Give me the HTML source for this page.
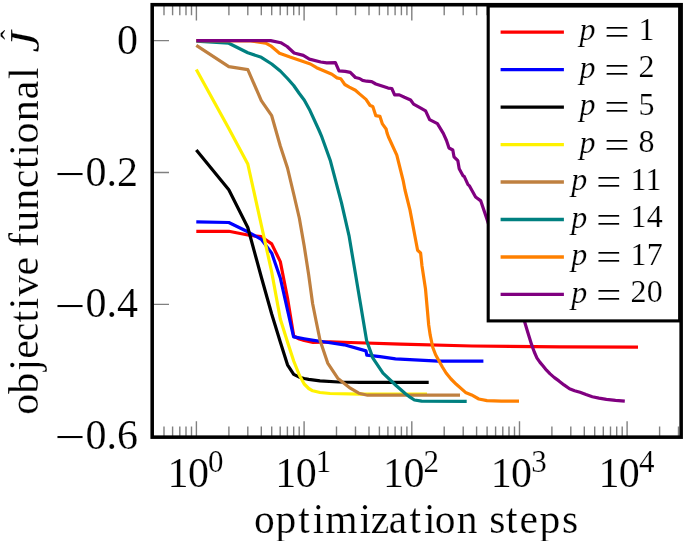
<!DOCTYPE html>
<html><head><meta charset="utf-8"><title>plot</title>
<style>html,body{margin:0;padding:0;background:#fff}svg{display:block;will-change:transform}text{font-family:"Liberation Serif",serif;fill:#000;stroke:#fff;stroke-width:.18px}</style></head><body>
<svg width="685" height="541" viewBox="0 0 685 541">
<rect width="685" height="541" fill="#fff"/>
<g stroke="#808080" stroke-width="1.4" fill="none">
<path d="M164.0 4.7 v10.6 M164.0 437.15 v-10.6"/>
<path d="M172.6 4.7 v10.6 M172.6 437.15 v-10.6"/>
<path d="M179.8 4.7 v10.6 M179.8 437.15 v-10.6"/>
<path d="M186.0 4.7 v10.6 M186.0 437.15 v-10.6"/>
<path d="M191.5 4.7 v10.6 M191.5 437.15 v-10.6"/>
<path d="M196.4 4.7 v15.8 M196.4 437.15 v-15.8"/>
<path d="M228.9 4.7 v10.6 M228.9 437.15 v-10.6"/>
<path d="M247.8 4.7 v10.6 M247.8 437.15 v-10.6"/>
<path d="M261.3 4.7 v10.6 M261.3 437.15 v-10.6"/>
<path d="M271.7 4.7 v10.6 M271.7 437.15 v-10.6"/>
<path d="M280.2 4.7 v10.6 M280.2 437.15 v-10.6"/>
<path d="M287.4 4.7 v10.6 M287.4 437.15 v-10.6"/>
<path d="M293.7 4.7 v10.6 M293.7 437.15 v-10.6"/>
<path d="M299.2 4.7 v10.6 M299.2 437.15 v-10.6"/>
<path d="M304.1 4.7 v15.8 M304.1 437.15 v-15.8"/>
<path d="M336.5 4.7 v10.6 M336.5 437.15 v-10.6"/>
<path d="M355.5 4.7 v10.6 M355.5 437.15 v-10.6"/>
<path d="M369.0 4.7 v10.6 M369.0 437.15 v-10.6"/>
<path d="M379.4 4.7 v10.6 M379.4 437.15 v-10.6"/>
<path d="M387.9 4.7 v10.6 M387.9 437.15 v-10.6"/>
<path d="M395.1 4.7 v10.6 M395.1 437.15 v-10.6"/>
<path d="M401.4 4.7 v10.6 M401.4 437.15 v-10.6"/>
<path d="M406.9 4.7 v10.6 M406.9 437.15 v-10.6"/>
<path d="M411.8 4.7 v15.8 M411.8 437.15 v-15.8"/>
<path d="M444.2 4.7 v10.6 M444.2 437.15 v-10.6"/>
<path d="M463.2 4.7 v10.6 M463.2 437.15 v-10.6"/>
<path d="M476.6 4.7 v10.6 M476.6 437.15 v-10.6"/>
<path d="M487.1 4.7 v10.6 M487.1 437.15 v-10.6"/>
<path d="M495.6 4.7 v10.6 M495.6 437.15 v-10.6"/>
<path d="M502.8 4.7 v10.6 M502.8 437.15 v-10.6"/>
<path d="M509.0 4.7 v10.6 M509.0 437.15 v-10.6"/>
<path d="M514.5 4.7 v10.6 M514.5 437.15 v-10.6"/>
<path d="M519.5 4.7 v15.8 M519.5 437.15 v-15.8"/>
<path d="M551.9 4.7 v10.6 M551.9 437.15 v-10.6"/>
<path d="M570.8 4.7 v10.6 M570.8 437.15 v-10.6"/>
<path d="M584.3 4.7 v10.6 M584.3 437.15 v-10.6"/>
<path d="M594.7 4.7 v10.6 M594.7 437.15 v-10.6"/>
<path d="M603.3 4.7 v10.6 M603.3 437.15 v-10.6"/>
<path d="M610.5 4.7 v10.6 M610.5 437.15 v-10.6"/>
<path d="M616.7 4.7 v10.6 M616.7 437.15 v-10.6"/>
<path d="M622.2 4.7 v10.6 M622.2 437.15 v-10.6"/>
<path d="M627.1 4.7 v15.8 M627.1 437.15 v-15.8"/>
<path d="M659.6 4.7 v10.6 M659.6 437.15 v-10.6"/>
<path d="M678.5 4.7 v10.6 M678.5 437.15 v-10.6"/>
<path d="M152.2 40.6 h16.8 M681.15 40.6 h-16.8"/>
<path d="M152.2 172.5 h16.8 M681.15 172.5 h-16.8"/>
<path d="M152.2 304.4 h16.8 M681.15 304.4 h-16.8"/>
</g>
<g fill="none" stroke-width="3.2" stroke-linejoin="round">
<polyline stroke="#ff0000" points="196.3,231.3 228.8,231.3 247.8,235.0 261.3,236.7 271.7,243.9 280.3,261.6 287.5,298.0 293.7,336.0 299.3,339.0 304.2,340.5 313.1,342.4 330.0,341.8 350.3,342.5 400.6,344.2 472.0,346.0 560.0,346.8 638.0,347.1"/>
<polyline stroke="#0000ff" points="196.3,221.8 228.8,222.5 247.8,231.8 261.3,239.3 271.7,253.1 280.3,278.0 287.5,310.0 293.6,336.8 299.3,337.8 304.2,338.7 313.6,340.3 325.1,342.0 344.2,344.8 366.0,350.9 366.8,355.2 380.0,356.6 395.5,358.8 438.3,361.1 483.4,361.1"/>
<polyline stroke="#000000" points="196.3,150.1 228.8,189.8 247.8,227.5 261.3,277.0 271.7,314.0 280.3,342.0 287.5,364.8 293.7,374.3 299.3,377.2 304.2,378.5 308.7,379.3 320.0,380.8 338.4,382.0 360.0,382.4 428.7,382.4"/>
<polyline stroke="#fff200" points="196.3,69.6 228.8,128.5 247.8,164.0 261.3,225.0 271.7,272.0 280.3,319.0 287.5,342.0 293.7,361.0 299.3,375.0 304.2,384.0 308.7,388.5 312.7,390.8 320.0,392.5 330.0,393.5 360.0,394.2 427.0,394.2"/>
<polyline stroke="#bf8040" points="196.3,45.3 228.8,66.6 247.8,69.6 261.3,100.6 271.7,115.7 280.3,146.0 287.5,168.0 293.7,194.0 299.3,218.0 304.2,246.0 308.7,275.0 312.6,303.5 316.3,322.0 320.1,340.5 327.7,363.1 337.7,378.2 350.3,388.2 358.8,393.2 367.6,395.2 460.0,395.2"/>
<polyline stroke="#008080" points="196.3,41.1 228.8,43.2 247.8,52.8 261.3,57.3 271.7,64.0 280.3,71.0 287.5,78.5 293.7,85.5 299.3,93.5 304.2,100.0 310.0,110.6 318.9,130.0 321.4,135.8 330.2,160.2 341.5,202.9 349.0,235.6 354.1,265.8 360.3,302.7 366.6,340.5 372.9,358.1 383.0,373.2 395.5,385.0 405.2,393.5 410.0,397.2 414.4,400.0 421.6,401.2 466.7,401.4"/>
<polyline stroke="#ff8000" points="196.3,40.6 250.6,40.8 265.7,43.2 270.7,45.8 279.5,53.3 290.0,57.1 300.2,60.5 310.4,64.0 316.6,67.7 323.7,70.8 331.9,74.2 337.0,77.9 340.7,78.7 344.8,84.5 349.3,87.1 355.4,90.2 359.5,93.9 366.0,99.4 370.1,105.5 372.8,106.5 375.8,115.7 379.9,116.3 382.4,123.9 386.1,129.0 387.1,133.1 388.5,137.0 396.8,155.1 403.1,180.3 405.0,190.0 410.0,210.1 417.6,250.3 420.6,253.0 422.0,266.0 425.5,289.0 428.7,325.0 430.2,335.2 432.8,347.5 435.6,354.8 438.9,360.8 442.4,367.0 446.1,373.0 451.0,379.0 456.3,384.3 465.5,392.4 471.6,394.9 478.8,399.0 487.0,400.6 501.3,401.2 519.0,401.2"/>
<polyline stroke="#800080" points="196.3,40.6 270.7,40.6 280.8,42.7 287.1,46.5 294.1,53.0 303.3,55.4 309.4,59.1 320.7,62.0 326.8,62.8 335.4,62.6 339.0,70.8 345.2,71.4 350.3,72.4 355.4,77.5 359.5,78.5 362.6,80.4 366.6,81.2 371.7,81.6 375.8,84.0 382.0,86.1 388.1,88.1 391.8,88.5 394.6,94.9 399.3,94.9 404.4,97.3 410.6,100.0 413.6,104.1 420.8,108.2 425.6,110.8 429.6,119.6 437.4,123.7 443.3,133.3 446.5,140.5 449.0,148.0 452.8,150.0 454.0,156.8 457.8,160.6 459.2,168.8 463.0,175.8 464.2,176.4 468.0,184.6 469.5,185.9 475.6,197.0 480.8,200.9 487.3,220.3 500.0,260.0 524.7,322.0 527.3,330.8 531.7,344.9 534.3,352.0 537.0,358.1 540.0,362.4 543.1,366.0 546.5,370.2 550.1,373.9 554.4,377.6 558.9,380.9 564.0,384.9 569.5,388.8 574.6,390.7 580.0,392.3 586.0,394.6 592.3,396.7 599.0,398.1 606.4,399.4 615.5,400.4 624.8,401.1"/>
</g>
<rect x="152.2" y="4.7" width="528.95" height="432.45" fill="none" stroke="#000" stroke-width="3.55"/>
<rect x="488.2" y="6.0" width="191.45" height="314.9" fill="#fff" stroke="#000" stroke-width="3.1"/>
<path d="M500.6 32.1 H563.9" stroke="#ff0000" stroke-width="3.35" fill="none"/>
<text x="579.6" y="40.3" font-size="32" font-style="italic">p</text>
<text transform="translate(604.2,45.10) scale(1,1.13)" font-size="33" textLength="25.4" lengthAdjust="spacingAndGlyphs">=</text>
<text x="638.4" y="39.8" font-size="32" letter-spacing="0.2">1</text>
<path d="M500.6 69.6 H563.9" stroke="#0000ff" stroke-width="3.35" fill="none"/>
<text x="579.6" y="77.8" font-size="32" font-style="italic">p</text>
<text transform="translate(604.2,82.59) scale(1,1.13)" font-size="33" textLength="25.4" lengthAdjust="spacingAndGlyphs">=</text>
<text x="638.4" y="77.3" font-size="32" letter-spacing="0.2">2</text>
<path d="M500.6 107.1 H563.9" stroke="#000000" stroke-width="3.35" fill="none"/>
<text x="579.6" y="115.3" font-size="32" font-style="italic">p</text>
<text transform="translate(604.2,120.08) scale(1,1.13)" font-size="33" textLength="25.4" lengthAdjust="spacingAndGlyphs">=</text>
<text x="638.4" y="114.8" font-size="32" letter-spacing="0.2">5</text>
<path d="M500.6 144.6 H563.9" stroke="#fff200" stroke-width="3.35" fill="none"/>
<text x="579.6" y="152.8" font-size="32" font-style="italic">p</text>
<text transform="translate(604.2,157.57) scale(1,1.13)" font-size="33" textLength="25.4" lengthAdjust="spacingAndGlyphs">=</text>
<text x="638.4" y="152.3" font-size="32" letter-spacing="0.2">8</text>
<path d="M500.6 182.0 H563.9" stroke="#bf8040" stroke-width="3.35" fill="none"/>
<text x="571.3" y="190.3" font-size="32" font-style="italic">p</text>
<text transform="translate(595.9,195.06) scale(1,1.13)" font-size="33" textLength="25.4" lengthAdjust="spacingAndGlyphs">=</text>
<text x="630.6" y="189.8" font-size="32" letter-spacing="0.2">11</text>
<path d="M500.6 219.5 H563.9" stroke="#008080" stroke-width="3.35" fill="none"/>
<text x="571.3" y="227.8" font-size="32" font-style="italic">p</text>
<text transform="translate(595.9,232.55) scale(1,1.13)" font-size="33" textLength="25.4" lengthAdjust="spacingAndGlyphs">=</text>
<text x="630.6" y="227.3" font-size="32" letter-spacing="0.2">14</text>
<path d="M500.6 257.0 H563.9" stroke="#ff8000" stroke-width="3.35" fill="none"/>
<text x="571.3" y="265.2" font-size="32" font-style="italic">p</text>
<text transform="translate(595.9,270.04) scale(1,1.13)" font-size="33" textLength="25.4" lengthAdjust="spacingAndGlyphs">=</text>
<text x="630.6" y="264.7" font-size="32" letter-spacing="0.2">17</text>
<path d="M500.6 294.4 H563.9" stroke="#800080" stroke-width="3.35" fill="none"/>
<text x="571.3" y="302.7" font-size="32" font-style="italic">p</text>
<text transform="translate(595.9,307.53) scale(1,1.13)" font-size="33" textLength="25.4" lengthAdjust="spacingAndGlyphs">=</text>
<text x="630.6" y="302.2" font-size="32" letter-spacing="0.2">20</text>
<text x="137.9" y="53.9" font-size="42" text-anchor="end">0</text>
<text x="137.9" y="185.5" font-size="42" text-anchor="end">0.2</text>
<text x="54.4" y="187.6" font-size="42" textLength="31" lengthAdjust="spacingAndGlyphs">−</text>
<text x="137.9" y="317.4" font-size="42" text-anchor="end">0.4</text>
<text x="54.4" y="319.5" font-size="42" textLength="31" lengthAdjust="spacingAndGlyphs">−</text>
<text x="137.9" y="449.3" font-size="42" text-anchor="end">0.6</text>
<text x="54.4" y="451.4" font-size="42" textLength="31" lengthAdjust="spacingAndGlyphs">−</text>
<text x="167.6" y="486.6" font-size="42" letter-spacing="-0.6">10</text>
<text x="208.1" y="472.3" font-size="31">0</text>
<text x="275.3" y="486.6" font-size="42" letter-spacing="-0.6">10</text>
<text x="315.8" y="472.3" font-size="31">1</text>
<text x="383.0" y="486.6" font-size="42" letter-spacing="-0.6">10</text>
<text x="423.5" y="472.3" font-size="31">2</text>
<text x="490.7" y="486.6" font-size="42" letter-spacing="-0.6">10</text>
<text x="531.2" y="472.3" font-size="31">3</text>
<text x="598.4" y="486.6" font-size="42" letter-spacing="-0.6">10</text>
<text x="638.9" y="472.3" font-size="31">4</text>
<text x="254.00 275.48 298.32 312.68 325.15 359.46 370.63 388.78 409.54 423.91 434.72 456.66 479.39 489.20 505.99 519.45 539.61 561.99" y="532.8" font-size="41.5">optimization steps</text>
<text transform="translate(38.2,413.4) rotate(-90)" x="-1.40 19.54 42.73 54.70 72.14 90.84 104.20 117.07 137.91 159.76 166.30 181.64 203.78 225.07 244.32 257.73 269.95 292.09 314.23 334.43" font-size="42">objective functional</text>
<text transform="translate(39.0,52.4) rotate(-90)" font-size="43" font-style="italic" textLength="21.5" lengthAdjust="spacingAndGlyphs">J</text>
<text transform="translate(20.6,39.8) rotate(-90)" font-size="30">ˆ</text>
</svg></body></html>
